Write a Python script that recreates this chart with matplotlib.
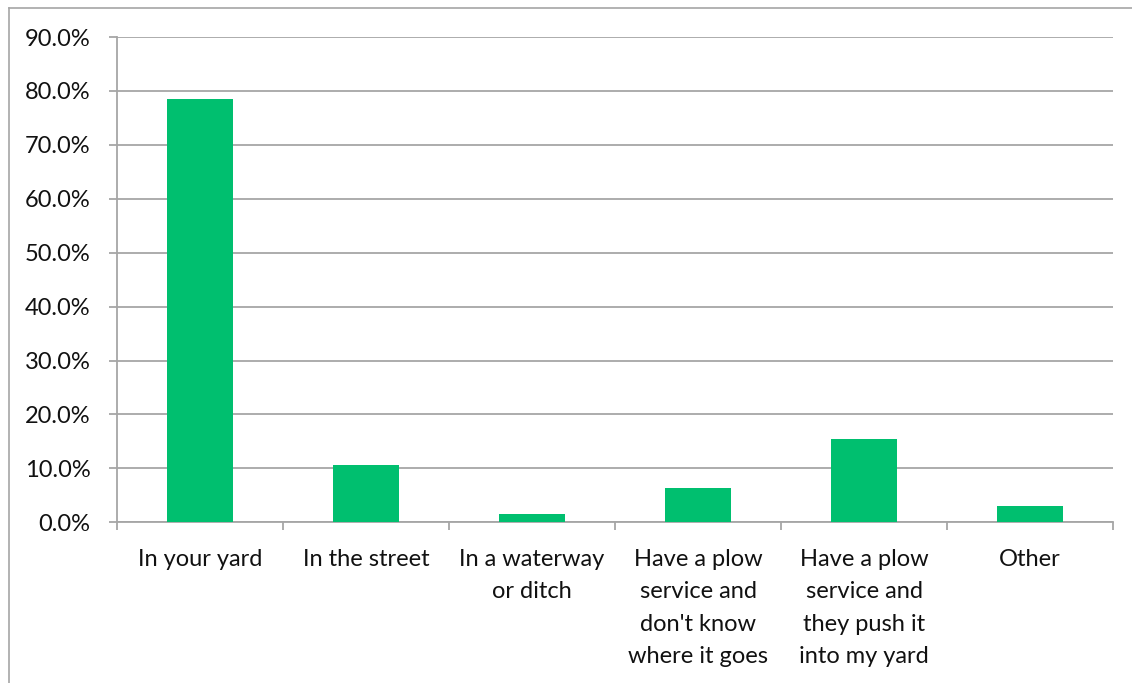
import numpy as np
import matplotlib
matplotlib.use("Agg")
import matplotlib.pyplot as plt
from matplotlib.lines import Line2D
from matplotlib.ticker import FuncFormatter, FixedLocator

# data
categories = ["In your yard", "In the street", "In a waterway\nor ditch",
              "Have a plow\nservice and\ndon't know\nwhere it goes",
              "Have a plow\nservice and\nthey push it\ninto my yard", "Other"]
percent = [78.5, 10.6, 1.5, 6.3, 15.4, 3.0]
y_ticks = [0, 10, 20, 30, 40, 50, 60, 70, 80, 90]

BAR = "#00BF6F"
GRID = "#A6A6A6"
W, H = 1132, 683

plt.rcParams['font.family'] = ['Lato', 'DejaVu Sans']

fig = plt.figure(figsize=(W / 100, H / 100), dpi=100, facecolor="white")
ax = fig.add_axes([117 / W, 1 - 522.3 / H, (1113 - 117) / W, (522.3 - 37) / H])

x = np.arange(len(categories))
ax.bar(x, percent, width=0.4, color=BAR, zorder=3)

ax.set_xlim(-0.5, len(categories) - 0.5)
ax.set_ylim(0, 90)
ax.set_yticks(y_ticks)
ax.yaxis.set_major_formatter(FuncFormatter(lambda v, p: f"{v:.1f}%"))
ax.yaxis.grid(True, color=GRID, linewidth=1.3, zorder=0)

# category labels at centres, tick marks on the boundaries
ax.xaxis.set_major_locator(FixedLocator(np.arange(len(categories) + 1) - 0.5))
ax.xaxis.set_minor_locator(FixedLocator(x))
ax.set_xticklabels([])
ax.set_xticklabels(categories, minor=True, fontsize=17, color="#111111",
                   linespacing=1.68, va="top")
ax.tick_params(axis="x", which="major", length=6, width=1.3, color=GRID, direction="out")
ax.tick_params(axis="x", which="minor", length=0, pad=19)
ax.tick_params(axis="y", length=6, width=1.3, color=GRID, pad=13, labelsize=17,
               labelcolor="#111111")

for s in ["top", "right"]:
    ax.spines[s].set_visible(False)
ax.spines["left"].set_color(GRID)
ax.spines["left"].set_linewidth(1.3)
ax.spines["bottom"].set_color(GRID)
ax.spines["bottom"].set_linewidth(1.3)

# chart area border (top and left visible)
fig.add_artist(Line2D([8.5 / W, 1], [1 - 7.5 / H, 1 - 7.5 / H], color="#A6A6A6",
                      linewidth=1.2, transform=fig.transFigure))
fig.add_artist(Line2D([8.5 / W, 8.5 / W], [0, 1 - 7.5 / H], color="#A6A6A6",
                      linewidth=1.2, transform=fig.transFigure))

fig.savefig("out.png", dpi=100, facecolor="white")
